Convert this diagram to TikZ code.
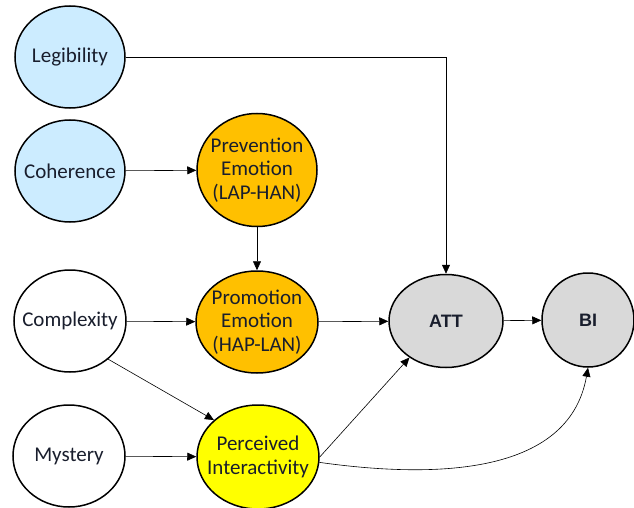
\documentclass[tikz,border=0pt]{standalone}
\usepackage{fontspec}
\setmainfont{Carlito}
\newfontfamily\arialfont{Liberation Sans}
\usetikzlibrary{shapes.geometric,arrows.meta}
\definecolor{lblue}{RGB}{204,236,255}
\definecolor{orng}{RGB}{255,192,0}
\definecolor{ylw}{RGB}{255,255,0}
\definecolor{lgray}{RGB}{217,217,217}
\definecolor{txt}{RGB}{25,30,45}
\tikzset{circ/.style={ellipse,draw,line width=1.5pt,inner sep=-16pt,align=center,text=txt,
  font=\fontsize{21}{23.5}\selectfont},
  arr/.style={-{Triangle[length=9pt,width=8pt]},line width=0.6pt}}
\begin{document}
\begin{tikzpicture}[x=1pt,y=-1pt]
\useasboundingbox (0,0) rectangle (634,508);
% left column
\node[circ,fill=lblue,minimum width=110pt,minimum height=102pt] (leg) at (70,57) {Legibility};
\node[circ,fill=lblue,minimum width=110pt,minimum height=102pt] (coh) at (70,171) {Coherence};
\node[circ,fill=white,minimum width=112pt,minimum height=102pt] (comp) at (70,321) {Complexity};
\node[circ,fill=white,minimum width=112pt,minimum height=102pt] (mys) at (69,456) {Mystery};
% middle column
\node[circ,fill=orng,minimum width=120pt,minimum height=113pt] (prev) at (257,170) {Prevention\\Emotion\\(LAP-HAN)};
\node[circ,fill=orng,minimum width=122pt,minimum height=102pt] (prom) at (257,322) {Promotion\\Emotion\\(HAP-LAN)};
\node[circ,fill=ylw,minimum width=122pt,minimum height=104pt] (per) at (258,457) {Perceived\\Interactivity};
% outcomes
\node[circ,fill=lgray,minimum width=114pt,minimum height=93pt,font=\arialfont\bfseries\fontsize{18}{20}\selectfont] (att) at (446,321) {ATT};
\node[circ,fill=lgray,minimum width=92pt,minimum height=94pt,font=\arialfont\bfseries\fontsize{18}{20}\selectfont] (bi) at (588,320) {BI};
% paths
\draw[arr] (leg.east) -| (att.north);
\draw[arr] (coh) -- (prev);
\draw[arr] (prev) -- (prom);
\draw[arr] (comp) -- (prom);
\draw[arr] (comp.-45) -- (per.140);
\draw[arr] (mys) -- (per);
\draw[arr] (prom) -- (att);
\draw[arr] (att) -- (bi);
\draw[arr] (per.east) -- (att.-135);
\draw[arr] (per.-5) to[out=-8,in=-100] (bi.south);
\end{tikzpicture}
\end{document}
